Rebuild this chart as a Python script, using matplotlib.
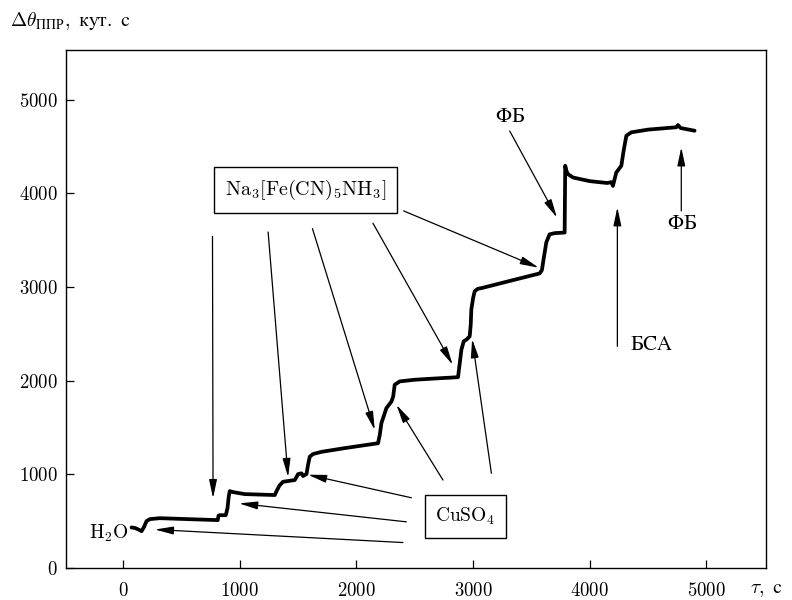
import numpy as np
import matplotlib.pyplot as plt

plt.rcParams['font.family'] = ['cmr10', 'Liberation Serif']
plt.rcParams['mathtext.fontset'] = 'cm'
plt.rcParams['axes.formatter.use_mathtext'] = True

# SPR angle shift versus time
time_s = [72, 100, 130, 158, 180, 200, 229, 314, 600, 800, 811, 818, 830, 880, 895,
          905, 914, 940, 1043, 1300, 1315, 1340, 1371, 1471, 1490, 1500, 1529, 1542,
          1572, 1585, 1600, 1628, 1700, 1900, 2185, 2200, 2214, 2257, 2300, 2315,
          2328, 2371, 2500, 2700, 2871, 2885, 2900, 2920, 2943, 2971, 2980, 2985,
          3000, 3014, 3040, 3085, 3300, 3571, 3590, 3605, 3628, 3656, 3700, 3785,
          3790, 3800, 3813, 3856, 3999, 4150, 4185, 4199, 4215, 4228, 4271, 4290,
          4314, 4357, 4500, 4742, 4756, 4779, 4899]
shift = [433, 428, 412, 393, 440, 500, 522, 532, 520, 512, 511, 560, 564, 564, 640,
         760, 821, 811, 789, 779, 820, 880, 921, 939, 980, 1003, 1011, 982, 1003,
         1100, 1189, 1217, 1240, 1280, 1332, 1420, 1546, 1707, 1777, 1830, 1956,
         1992, 2010, 2025, 2037, 2180, 2331, 2420, 2438, 2473, 2600, 2759, 2880,
         2955, 2980, 2992, 3060, 3145, 3180, 3300, 3477, 3562, 3575, 3581, 4294,
         4240, 4205, 4169, 4130, 4110, 4119, 4079, 4160, 4223, 4294, 4450, 4615,
         4651, 4680, 4705, 4729, 4697, 4668]

x_ticks = [0, 1000, 2000, 3000, 4000, 5000]
y_ticks = [0, 1000, 2000, 3000, 4000, 5000]

# arrows: (tail, head)
na_arrows = [((766, 3541), (771, 746)),
             ((1243, 3587), (1414, 971)),
             ((1623, 3623), (2157, 1474)),
             ((2142, 3680), (2825, 2170)),
             ((2405, 3812), (3562, 3206))]
cu_arrows = [((2399, 272), (272, 411)),
             ((2428, 493), (994, 690)),
             ((2471, 750), (1585, 996)),
             ((2742, 939), (2343, 1742)),
             ((3157, 1011), (2992, 2443))]
other_arrows = [((3314, 4665), (3719, 3741)),
                ((4785, 3812), (4785, 4491)),
                ((4237, 2366), (4237, 3851))]

fig = plt.figure(figsize=(7.92, 6), dpi=100)
ax = fig.add_axes([0.0833, 0.0533, 0.8837, 0.8634])

ax.plot(time_s, shift, color='black', lw=2.7, solid_joinstyle='round',
        solid_capstyle='round')

arrow_kw = dict(arrowstyle='-|>,head_length=0.8,head_width=0.17', color='black',
                lw=0.9, mutation_scale=14, shrinkA=0, shrinkB=0)
for tail, head in na_arrows + cu_arrows + other_arrows:
    ax.annotate('', xy=head, xytext=tail, arrowprops=arrow_kw)

box_kw = dict(boxstyle='square,pad=0.55', facecolor='white', edgecolor='black', lw=1.0)
ax.text(1561, 4033, r'$\mathrm{Na_3[Fe(CN)_5NH_3]}$', fontsize=14.5,
        ha='center', va='center', bbox=box_kw)
ax.text(2934, 554, r'$\mathrm{CuSO_4}$', fontsize=14, ha='center', va='center',
        bbox=box_kw)
ax.text(-122, 372, r'$\mathrm{H_2O}$', fontsize=14, ha='center', va='center')
ax.text(3314, 4815, r'$\mathrm{ФБ}$', fontsize=15, ha='center', va='center')
ax.text(4795, 3669, r'$\mathrm{ФБ}$', fontsize=15, ha='center', va='center')
ax.text(4530, 2385, r'$\mathrm{БСА}$', fontsize=15, ha='center', va='center')

ax.set_xlim(-490, 5510)
ax.set_ylim(0, 5530)
ax.set_xticks(x_ticks)
ax.set_yticks(y_ticks)
ax.tick_params(direction='in', length=6, width=0.9, labelsize=13.5)
ax.tick_params(axis='x', pad=10)
ax.tick_params(axis='y', pad=6)
for s in ax.spines.values():
    s.set_linewidth(1.0)

fig.text(0.013, 0.965, r'$\Delta\theta_{\mathrm{ППР}},\ \mathrm{кут.\ с}$', fontsize=14,
         ha='left', va='center')
fig.text(0.947, 0.017, r'$\tau,\ \mathrm{с}$', fontsize=14, ha='left', va='center')

fig.savefig('out.png', dpi=100)
